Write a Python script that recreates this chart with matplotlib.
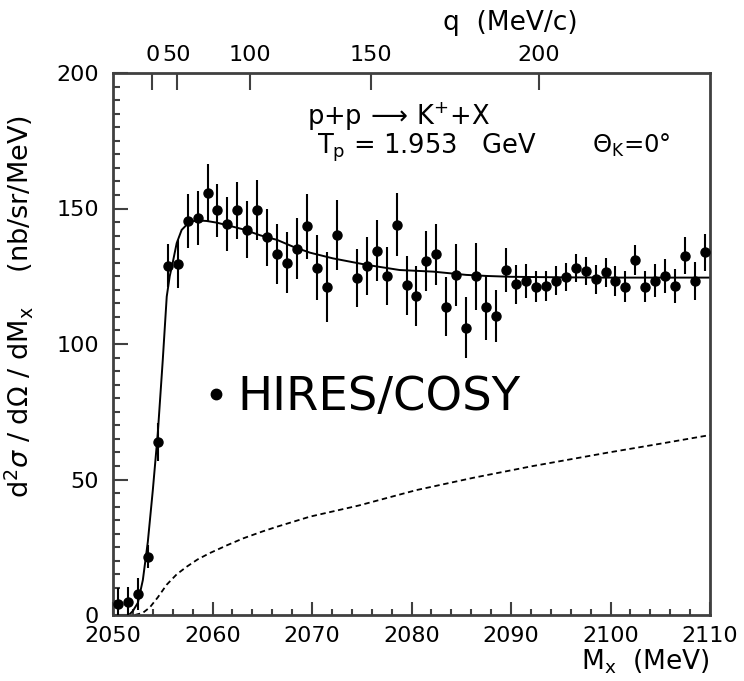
import numpy as np
import matplotlib
matplotlib.use("Agg")
import matplotlib.pyplot as plt
from matplotlib.lines import Line2D

# ---------------- data ----------------
mx = [2050.5, 2051.5, 2052.5, 2053.5, 2054.5, 2055.5, 2056.5, 2057.5, 2058.5, 2059.5,
      2060.5, 2061.5, 2062.5, 2063.5, 2064.5, 2065.5, 2066.5, 2067.5, 2068.5, 2069.5,
      2070.5, 2071.5, 2072.5, 2074.5, 2075.5, 2076.5, 2077.5, 2078.5, 2079.5,
      2080.5, 2081.5, 2082.5, 2083.5, 2084.5, 2085.5, 2086.5, 2087.5, 2088.5, 2089.5,
      2090.5, 2091.5, 2092.5, 2093.5, 2094.5, 2095.5, 2096.5, 2097.5, 2098.5, 2099.5,
      2100.5, 2101.5, 2102.5, 2103.5, 2104.5, 2105.5, 2106.5, 2107.5, 2108.5, 2109.5]
xsec = [4.0, 4.7, 7.9, 21.5, 63.8, 128.9, 129.5, 145.5, 146.6, 155.8,
        149.4, 144.3, 149.4, 142.1, 149.6, 139.4, 133.3, 130.0, 135.2, 143.4,
        128.2, 121.0, 140.1, 124.4, 128.7, 134.4, 125.0, 144.0, 121.7,
        117.7, 130.6, 133.1, 113.8, 125.5, 106.0, 125.0, 113.5, 110.3, 127.3,
        122.1, 123.2, 121.2, 121.4, 123.4, 124.7, 128.0, 126.8, 123.9, 126.5,
        123.1, 121.2, 131.0, 121.2, 123.4, 125.1, 121.5, 132.5, 123.1, 133.8]
err = [5.8, 5.5, 5.9, 4.2, 7.0, 8.0, 9.0, 10.0, 10.0, 10.5,
       9.8, 10.1, 10.5, 10.5, 11.1, 10.6, 11.1, 11.3, 11.3, 12.0,
       12.0, 12.9, 12.9, 10.7, 10.8, 11.3, 10.7, 11.6, 10.9,
       10.9, 11.1, 11.3, 11.0, 11.5, 11.3, 12.4, 11.9, 9.5, 8.2,
       7.2, 6.3, 5.7, 5.4, 5.2, 5.1, 5.2, 5.2, 5.4, 5.4,
       5.5, 5.7, 5.7, 5.7, 6.1, 6.1, 6.3, 6.8, 7.0, 6.8]

fit_x = [2051.6, 2052.0, 2052.5, 2053.0, 2053.5, 2054.0, 2054.5, 2055.0, 2055.4, 2055.7,
         2056.0, 2056.4, 2056.9, 2057.7, 2058.5, 2059.4, 2060.4, 2061.4, 2063.1, 2064.8,
         2066.5, 2068.1, 2069.8, 2072.1, 2075.5, 2078.8, 2082.2, 2085.5, 2087.6, 2090.0,
         2095.0, 2100.0, 2105.0, 2110.0]
fit_y = [0.0, 1.5, 4.5, 12.9, 27.0, 46.0, 67.0, 94.0, 117.5, 125.0,
         130.0, 137.2, 142.1, 145.1, 145.6, 145.4, 144.8, 143.9, 142.3, 140.1,
         138.4, 135.9, 133.7, 131.6, 129.2, 127.3, 126.7, 125.5, 125.1, 124.8,
         124.6, 124.5, 124.5, 124.5]

bg_x = [2052.2, 2053.0, 2053.7, 2054.5, 2055.4, 2056.4, 2057.4, 2058.5, 2059.7, 2061.5,
        2063.1, 2065.0, 2066.5, 2069.8, 2074.7, 2080.5, 2086.3, 2092.1, 2099.7, 2105.0, 2110.0]
bg_y = [0.0, 0.8, 2.8, 6.5, 11.2, 15.0, 17.8, 20.5, 22.8, 25.8,
        28.3, 30.8, 32.6, 36.3, 40.4, 46.1, 50.7, 54.9, 59.9, 63.2, 66.4]

q_ticks = [0, 50, 100, 150, 200]          # MeV/c
x_ticks = [2050, 2060, 2070, 2080, 2090, 2100, 2110]
y_ticks = [0, 50, 100, 150, 200]

# Lambda-p invariant mass for relative momentum q (top axis transform)
m_lam, m_p = 1115.683, 938.272
def q_to_mx(q):
    q = np.asarray(q, float)
    return np.sqrt(m_lam**2 + q**2) + np.sqrt(m_p**2 + q**2)

# ---------------- figure ----------------
plt.rcParams['font.family'] = ['DejaVu Sans']
fig = plt.figure(figsize=(7.44, 6.81), dpi=100)
ax = fig.add_axes([113/744, 66/681, 597/744, 542/681])

spine_col = '#404040'
ax.errorbar(mx, xsec, yerr=err, fmt='o', color='black', ms=6.5,
            elinewidth=1.5, capsize=0, zorder=3, clip_on=True)
ax.plot(fit_x, fit_y, color='black', lw=1.4, zorder=2)
ax.plot(bg_x, bg_y, color='black', lw=1.3, ls=(0, (3, 2)), zorder=2)

ax.set_xlim(2050, 2110)
ax.set_ylim(0, 200)
ax.set_xticks(x_ticks)
ax.set_xticks(np.arange(2050, 2111, 2), minor=True)
ax.set_yticks(y_ticks)
ax.set_yticks(np.arange(0, 201, 5), minor=True)
ax.tick_params(axis='both', which='both', direction='in', colors=spine_col,
               labelcolor='black', labelsize=16, width=1.5)
ax.tick_params(axis='x', which='major', length=9.5, pad=8)
ax.tick_params(axis='x', which='minor', length=4)
ax.tick_params(axis='y', which='major', length=11, pad=10)
ax.tick_params(axis='y', which='minor', length=5)
ax.tick_params(top=False, right=False, which='both')
for s in ax.spines.values():
    s.set_linewidth(2)
    s.set_color(spine_col)

ax.set_ylabel(r'd$^2\sigma$ / d$\Omega$ / dM$_{\rm x}$    (nb/sr/MeV)', fontsize=19.5)
ax.yaxis.set_label_coords(-0.131, 0.57)
ax.text(1.0, -0.06, r'M$_{\rm x}$  (MeV)', transform=ax.transAxes, ha='right', va='top',
        fontsize=19)

# top q axis
ax2 = ax.twiny()
ax2.set_xlim(ax.get_xlim())
ax2.set_xticks(q_to_mx(q_ticks))
ax2.set_xticklabels([str(q) for q in q_ticks])
ax2.tick_params(axis='x', direction='in', length=12, width=1.5, colors=spine_col,
                labelcolor='black', labelsize=16, pad=6)
for s in ax2.spines.values():
    s.set_visible(False)
ax2.text(0.665, 1.079, r'q  (MeV/c)', transform=ax.transAxes, ha='center', va='baseline',
         fontsize=19)

# reaction text
ax.text(0.325, 0.904, r'p+p$\,\longrightarrow\,$K$^{+}$+X', transform=ax.transAxes,
        fontsize=18.5, va='baseline', ha='left')
ax.text(0.342, 0.852, r'T$_{\rm p}$ = 1.953   GeV', transform=ax.transAxes,
        fontsize=18.5, va='baseline', ha='left')
ax.text(0.802, 0.852, r'$\Theta_{\rm K}$=0$\degree$', transform=ax.transAxes,
        fontsize=17.5, va='baseline', ha='left')

# legend
h = [Line2D([], [], marker='o', ls='none', color='black', ms=7.5)]
leg = ax.legend(h, ['HIRES/COSY'], loc='center left', bbox_to_anchor=(0.157, 0.401),
                frameon=False, borderpad=0, borderaxespad=0, handlelength=0.4,
                handletextpad=0.26, prop={'family': 'DejaVu Sans', 'size': 33.5})

fig.savefig('out.png', dpi=100)
